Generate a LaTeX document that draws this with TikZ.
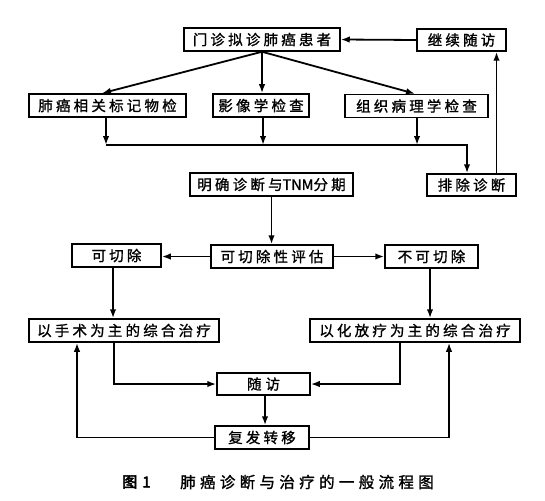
\documentclass[tikz,border=0pt]{standalone}
\usepackage{fontspec}
\newfontfamily\cjk[LetterSpace=22,FakeBold=1.2]{Noto Sans CJK SC}
\newfontfamily\cjklat[FakeBold=1.2]{Noto Sans CJK SC}
\newfontfamily\cjkcap[LetterSpace=28,FakeBold=1.4]{Noto Sans CJK SC}
\newfontfamily\cjkcapb[FakeBold=3]{Noto Sans CJK SC}
\usetikzlibrary{arrows.meta}
\begin{document}
\begin{tikzpicture}[x=1pt,y=-1pt,
  box/.style={draw, line width=1.5pt, minimum height=23pt, inner sep=0pt,
    font={\cjk\fontsize{14.5pt}{16pt}\selectfont}},
  ln/.style={line width=1.8pt},
  arr/.style={ln, -{Latex[length=9pt,width=6.5pt]}}]
\useasboundingbox (0,0) rectangle (545,500);
\fill[white] (0,0) rectangle (545,500);
% nodes
\node[box, minimum width=156pt] (men) at (262,39.5) {门诊拟诊肺癌患者};
\node[box, minimum width=89pt, minimum height=22pt] (jixu) at (461.5,40) {继续随访};
\node[box, minimum width=157pt] (fei) at (107.5,105.5) {肺癌相关标记物检};
\node[box, minimum width=96pt] (ying) at (261,105.5) {影像学检查};
\node[box, minimum width=143pt] (zuzhi) at (416.5,106) {组织病理学检查};
\node[box, minimum width=163pt] (ming) at (271.5,184.5) {明确诊断与{\cjklat TNM}分期};
\node[box, minimum width=89pt, minimum height=22pt] (pai) at (471.5,185) {排除诊断};
\node[box, minimum width=122pt] (kqpg) at (272,256.5) {可切除性评估};
\node[box, minimum width=89pt] (kqc) at (116.5,255.5) {可切除};
\node[box, minimum width=93pt] (bkq) at (431.5,256.5) {不可切除};
\node[box, minimum width=190pt] (ss) at (124,330.5) {以手术为主的综合治疗};
\node[box, minimum width=210pt] (hl) at (415,330.5) {以化放疗为主的综合治疗};
\node[box, minimum width=93pt, minimum height=22pt] (sf) at (263.5,384) {随\hspace{4pt}访};
\node[box, minimum width=94pt] (ff) at (262,437.5) {复发转移};
% caption
\node[font={\cjkcapb\fontsize{15pt}{17pt}\selectfont}] (c1) at (136.5,482) {图\hspace{5pt}1};
\node[font={\cjkcap\fontsize{15.5pt}{17pt}\selectfont}] (c2) at (307,482) {肺癌诊断与治疗的一般流程图};
% connectors
\draw[arr] (jixu.west) -- (men.east);
\draw[arr] (men.south) -- ([xshift=-5.5pt]fei.north);
\draw[arr] (men.south) -- (men.south |- ying.north);
\draw[arr] (men.south) -- ([xshift=-1.5pt]zuzhi.north);
\coordinate (hline) at (0,145);
\draw[arr] ([xshift=-1.5pt]fei.south) -- ([xshift=-1.5pt]fei.south |- hline);
\draw[arr] ([xshift=2pt]ying.south) -- ([xshift=2pt]ying.south |- hline);
\draw[arr] ([xshift=0.5pt]zuzhi.south) -- ([xshift=0.5pt]zuzhi.south |- hline);
\draw[arr] ([xshift=-1.5pt]fei.south |- hline) -- ([xshift=-4.5pt]pai.north |- hline) -- ([xshift=-4.5pt]pai.north);
\draw[arr] ([xshift=25pt]pai.north) -- ([xshift=25pt]pai.north |- jixu.south);
\draw[arr] (ming.south) -- (ming.south |- kqpg.north);
\draw[arr] (kqpg.west) -- (kqpg.west -| kqc.east);
\draw[arr] (kqpg.east) -- (kqpg.east -| bkq.west);
\draw[arr] ([xshift=-3.5pt]kqc.south) -- ([xshift=-3.5pt]kqc.south |- ss.north);
\draw[arr] ([xshift=-1.5pt]bkq.south) -- ([xshift=-1.5pt]bkq.south |- hl.north);
\draw[arr] ([xshift=-10pt]ss.south) |- (sf.west);
\draw[arr] ([xshift=-15pt]hl.south) |- (sf.east);
\draw[arr] ([xshift=1.5pt]sf.south) -- ([xshift=1.5pt]sf.south |- ff.north);
\draw[arr] (ff.west) -| ([xshift=-47pt]ss.south);
\draw[arr] (ff.east) -| ([xshift=34pt]hl.south);
\end{tikzpicture}
\end{document}
